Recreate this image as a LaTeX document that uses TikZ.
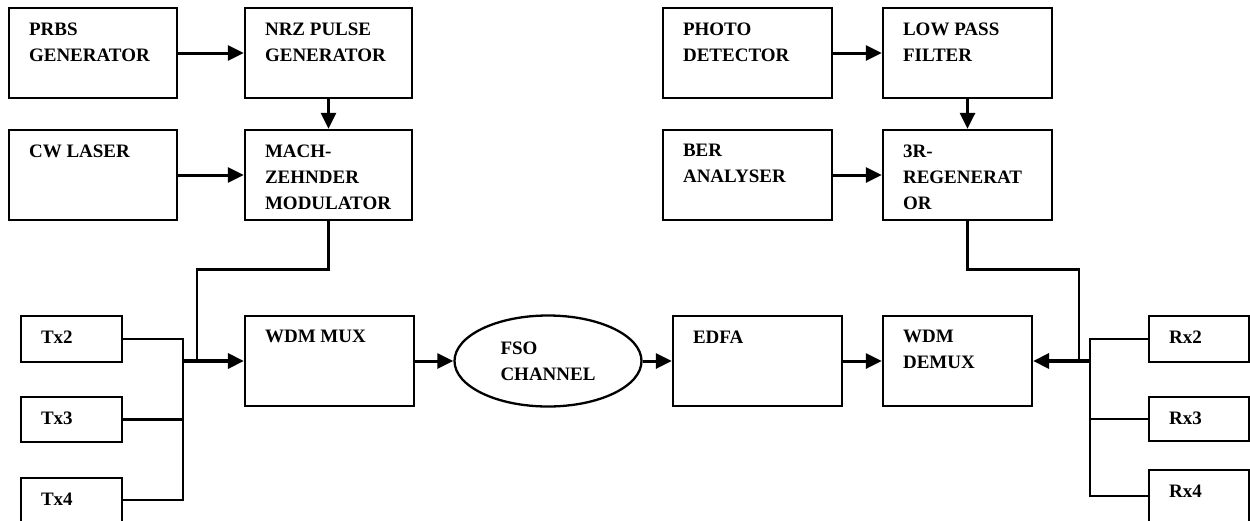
\documentclass[tikz,border=0pt]{standalone}
\usepackage{fontspec}
\setmainfont{Liberation Serif}
\usetikzlibrary{arrows.meta,calc,shapes.geometric}

% block: name, x1, y1, x2, y2, label (label set at the block's upper left)
\newcommand\blk[6]{%
  \node[blk, minimum width={#4-#2}, minimum height={#5-#3}]
    (#1) at ({(#2+#4)/2},{(#3+#5)/2}) {};
  \node[lbl, anchor=north west] (#1-t) at ($(#1.north west)+(21,15.5)$) {#6};
}

\begin{document}
\begin{tikzpicture}[x=1pt, y=-1pt,
  blk/.style={draw, line width=2.3pt, inner sep=0pt},
  lbl/.style={inner sep=0pt, align=left, font=\fontsize{19}{26}\selectfont\bfseries},
  tip/.style={-{Triangle[length=16pt,width=15pt]}},
  arr/.style={line width=3pt, tip},
  wire/.style={line width=2.7pt},
  bus/.style={line width=3.6pt, tip}]

\useasboundingbox (0,0) rectangle (1250,520);
\clip (0,0) rectangle (1250,520);

% transmitter
\blk{prbs}{9}{8}{177}{98}{PRBS\\GENERATOR}
\blk{nrz}{245}{8}{412}{98}{NRZ PULSE\\GENERATOR}
\blk{cw}{9}{130}{177}{220}{CW LASER}
\blk{mzm}{245}{130}{412}{220}{MACH-\\ZEHNDER\\MODULATOR}
\blk{tx2}{21}{316}{122}{362}{Tx2}
\blk{tx3}{21}{397}{122}{442}{Tx3}
\blk{tx4}{21}{478}{122}{522}{Tx4}
\blk{mux}{245}{316}{414}{406}{WDM MUX}

% channel and amplifier
\node[draw, ellipse, line width=2.3pt, minimum width=187pt, minimum height=91pt,
      inner sep=0pt, align=left, font=\fontsize{19}{26}\selectfont\bfseries]
  (fso) at (548,361) {FSO\\CHANNEL};
\blk{edfa}{673}{316}{842}{406}{EDFA}

% receiver
\blk{pd}{663}{8}{832}{98}{PHOTO\\DETECTOR}
\blk{lpf}{883}{8}{1052}{98}{LOW PASS\\FILTER}
\blk{ber}{663}{130}{832}{220}{BER\\ANALYSER}
\blk{reg}{883}{130}{1052}{220}{3R-\\REGENERAT\\OR}
\blk{demux}{883}{316}{1032}{406}{WDM\\DEMUX}
\blk{rx2}{1149}{316}{1249}{362}{Rx2}
\blk{rx3}{1149}{397}{1249}{441}{Rx3}
\blk{rx4}{1149}{470}{1249}{522}{Rx4}

% junction points of the feeder lines
\coordinate (tj) at (183,361);
\coordinate (mzj) at (197,361);
\coordinate (rj) at (1090,361);
\coordinate (regj) at (1079,361);

% transmitter connections
\draw[arr] (prbs.east) -- (nrz.west);
\draw[arr] (nrz.south) -- (mzm.north);
\draw[arr] (cw.east) -- (mzm.west);
\draw[wire] (mzm.south) -- ++(0,48) -| (mzj);
\draw[wire] (tx2.east) -| (tj);
\draw[wire] (tx3.east) -| (tj);
\draw[wire] (tx4.east) -| (tj);
\draw[bus] (tj) -- (mux.west);

% link
\draw[arr] (mux.east) -- (fso.west);
\draw[arr] (fso.east) -- (edfa.west);
\draw[arr] (edfa.east) -- (demux.west);

% receiver connections
\draw[arr] (pd.east) -- (lpf.west);
\draw[arr] (lpf.south) -- (reg.north);
\draw[arr] (ber.east) -- (reg.west);
\draw[wire] (reg.south) -- ++(0,48) -| (regj);
\draw[wire] (rx2.west) -| (rj);
\draw[wire] (rx3.west) -| (rj);
\draw[wire] (rx4.west) -| (rj);
\draw[bus] (rj) -- (demux.east);
\end{tikzpicture}
\end{document}
